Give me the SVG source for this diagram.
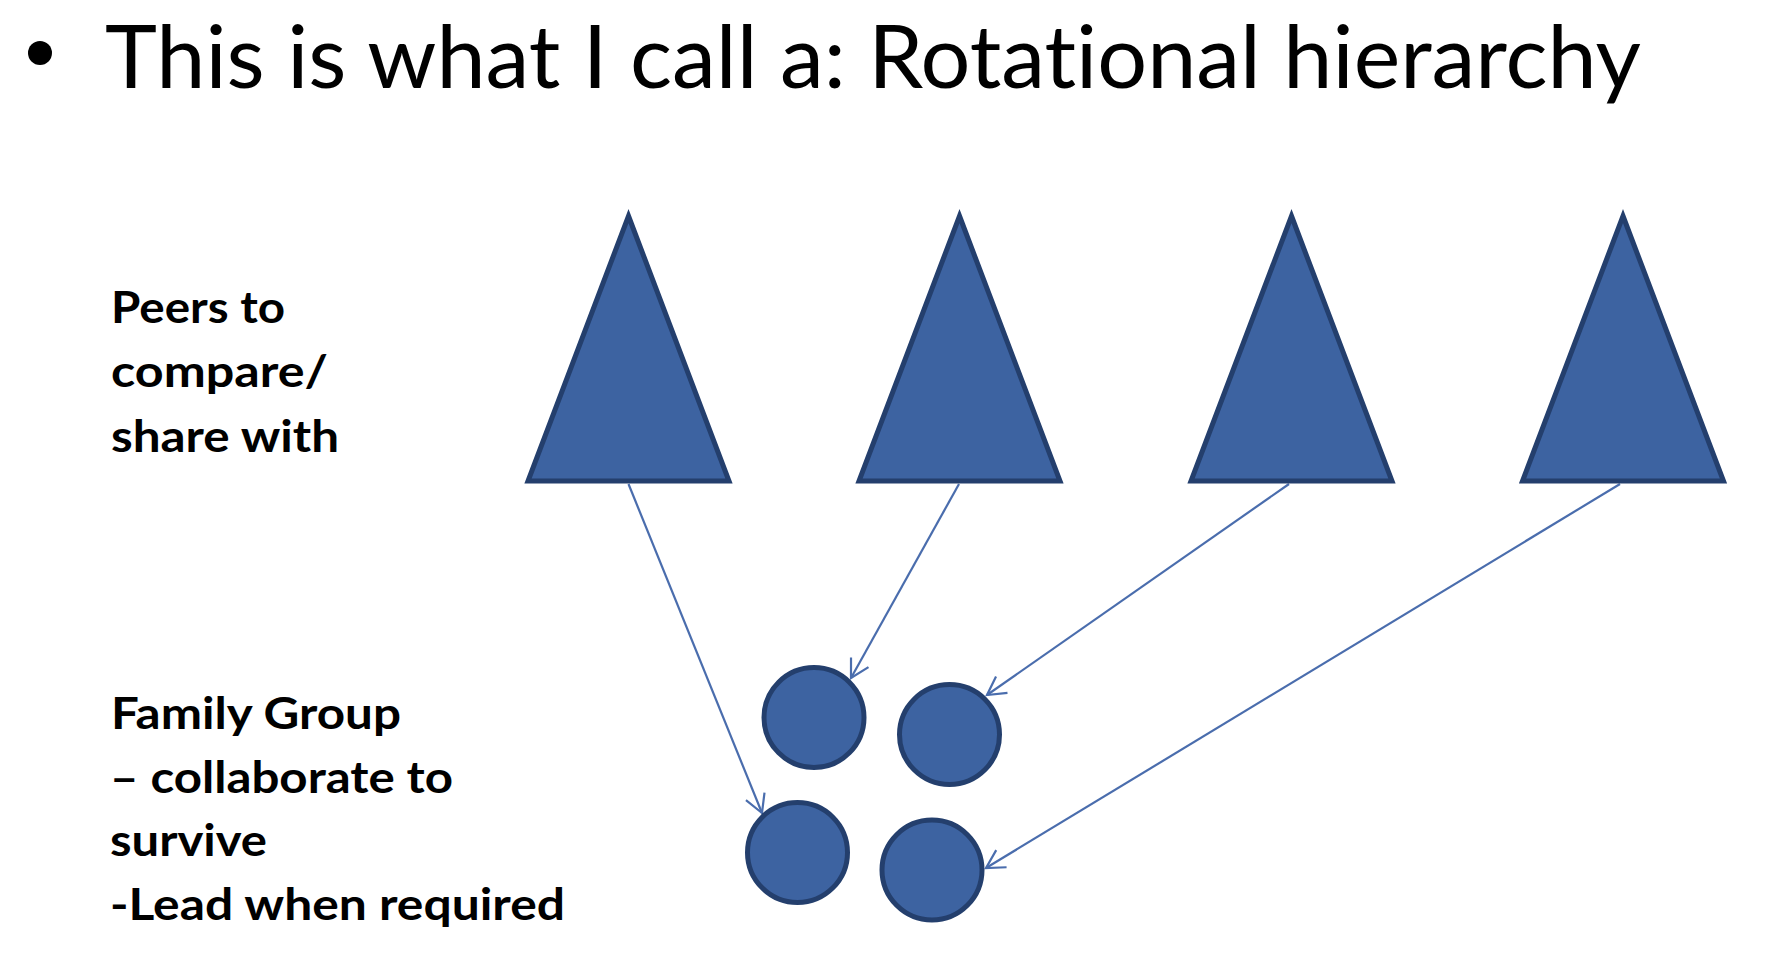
<svg xmlns="http://www.w3.org/2000/svg" width="1766" height="980" viewBox="0 0 1766 980">
  <defs>
    <style>
      .title { font-family: "Lato", "Liberation Sans", sans-serif; font-size: 88px; fill: #000; font-variant-ligatures: none; font-feature-settings: "liga" 0, "clig" 0; }
      .label { font-family: "Lato", "Liberation Sans", sans-serif; font-weight: bold; font-size: 43px; fill: #000; font-variant-ligatures: none; font-feature-settings: "liga" 0, "clig" 0; }
      .tri { fill: #3D63A1; stroke: #243F6D; stroke-width: 5; stroke-linejoin: miter; }
      .circ { fill: #3D63A1; stroke: #243F6D; stroke-width: 5; }
      .conn { stroke: #4A6DAD; stroke-width: 2.2; fill: none; marker-end: url(#arrow); }
    </style>
    <marker id="arrow" markerUnits="userSpaceOnUse" viewBox="-22 -13 24 26" refX="0" refY="0" markerWidth="24" markerHeight="26" orient="auto" overflow="visible">
      <path d="M-18,-10 L0,0 L-18,10" fill="none" stroke="#4A6DAD" stroke-width="2.2"/>
    </marker>
  </defs>
  <rect width="1766" height="980" fill="#FFFFFF"/>

  <g id="title">
    <circle cx="40" cy="53" r="12" fill="#000"/>
    <text class="title" x="105" y="88" textLength="1536" lengthAdjust="spacingAndGlyphs">This is what I call a: Rotational hierarchy</text>
  </g>

  <g id="label-peers">
    <text class="label" x="111" y="323" textLength="174" lengthAdjust="spacingAndGlyphs">Peers to</text>
    <text class="label" x="111" y="387" textLength="217" lengthAdjust="spacingAndGlyphs">compare/</text>
    <text class="label" x="111" y="452" textLength="228" lengthAdjust="spacingAndGlyphs">share with</text>
  </g>

  <g id="label-family">
    <text class="label" x="111" y="729" textLength="290" lengthAdjust="spacingAndGlyphs">Family Group</text>
    <text class="label" x="110" y="793" textLength="343" lengthAdjust="spacingAndGlyphs">– collaborate to</text>
    <text class="label" x="110" y="856" textLength="157" lengthAdjust="spacingAndGlyphs">survive</text>
    <text class="label" x="110" y="920" textLength="455" lengthAdjust="spacingAndGlyphs">-Lead when required</text>
  </g>

  <g id="connectors">
    <line class="conn" x1="628.5" y1="484" x2="762" y2="813"/>
    <line class="conn" x1="959" y1="484" x2="851" y2="678"/>
    <line class="conn" x1="1289" y1="484" x2="987" y2="695"/>
    <line class="conn" x1="1620" y1="484" x2="986" y2="868"/>
  </g>

  <g id="triangle-1"><polygon class="tri" points="628.5,216 729,481 528,481"/></g>
  <g id="triangle-2"><polygon class="tri" points="959.5,216 1060,481 859,481"/></g>
  <g id="triangle-3"><polygon class="tri" points="1291.5,216 1392,481 1191,481"/></g>
  <g id="triangle-4"><polygon class="tri" points="1623,216 1723.5,481 1522.5,481"/></g>

  <g id="circle-1"><circle class="circ" cx="814" cy="717.5" r="50"/></g>
  <g id="circle-2"><circle class="circ" cx="949.5" cy="734.5" r="50"/></g>
  <g id="circle-3"><circle class="circ" cx="797.5" cy="852.5" r="50"/></g>
  <g id="circle-4"><circle class="circ" cx="932" cy="870" r="50"/></g>
</svg>
